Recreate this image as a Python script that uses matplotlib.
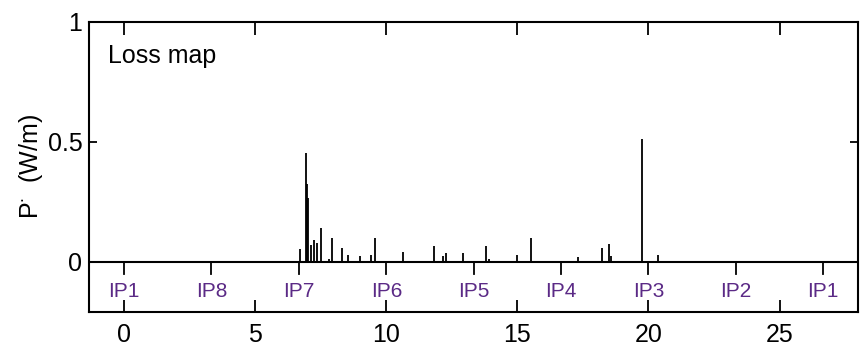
import matplotlib
matplotlib.use('Agg')
import matplotlib.pyplot as plt

# loss spikes along the ring: position (km) and power loss (W/m)
loss_positions = [6.70, 6.93, 6.97, 7.01, 7.13, 7.24, 7.37, 7.49, 7.82, 7.94,
                  8.31, 8.54, 8.98, 9.43, 9.55, 10.65, 11.82, 12.15, 12.26, 12.92,
                  13.82, 13.92, 14.98, 15.53, 17.31, 18.22, 18.48, 18.58, 19.75, 20.36]
loss_values = [0.055, 0.454, 0.322, 0.267, 0.069, 0.089, 0.079, 0.139, 0.010, 0.100,
               0.058, 0.030, 0.024, 0.030, 0.100, 0.040, 0.065, 0.024, 0.038, 0.036,
               0.064, 0.011, 0.029, 0.099, 0.021, 0.058, 0.075, 0.024, 0.510, 0.027]

# interaction points around the ring
ip_names = ['IP1', 'IP8', 'IP7', 'IP6', 'IP5', 'IP4', 'IP3', 'IP2', 'IP1']
ip_positions = [0, 3.33, 6.66, 10.0, 13.33, 16.66, 20.0, 23.33, 26.66]

x_ticks = [0, 5, 10, 15, 20, 25]
y_ticks = [0, 0.5, 1]
y_tick_labels = ['0', '0.5', '1']

plt.rcParams['font.family'] = ['Liberation Sans', 'DejaVu Sans']
plt.rcParams['mathtext.fontset'] = 'custom'
plt.rcParams['mathtext.rm'] = 'Liberation Sans'
plt.rcParams['mathtext.default'] = 'regular'

fig = plt.figure(figsize=(8.62, 3.6), dpi=100)
ax = fig.add_axes([0.1036, 0.134, 0.892, 0.806])

ax.vlines(loss_positions, 0, loss_values, color='black', linewidth=1.3)
ax.axhline(0, color='black', linewidth=1.5)

# IP markers hang below the zero line
ip_color = '#5b2a86'
for name, pos in zip(ip_names, ip_positions):
    ax.plot([pos, pos], [0, -0.052], color='black', linewidth=1.3)
    ax.text(pos, -0.122, name, ha='center', va='center', fontsize=15, color=ip_color)

ax.text(-0.62, 0.857, 'Loss map', ha='left', va='center', fontsize=18)

ax.set_xlim(-1.33, 28.0)
ax.set_ylim(-0.208, 1)
ax.set_xticks(x_ticks)
ax.set_yticks(y_ticks)
ax.set_yticklabels(y_tick_labels)
ax.tick_params(direction='in', top=True, right=True, width=1.3, labelsize=18)
ax.tick_params(axis='x', length=9, pad=8)
ax.tick_params(axis='y', length=6, pad=5)
for spine in ax.spines.values():
    spine.set_linewidth(1.5)

ax.set_ylabel(r'$P^{\bullet}$  (W/m)', fontsize=18, labelpad=2)

fig.savefig('out.png', dpi=100)
